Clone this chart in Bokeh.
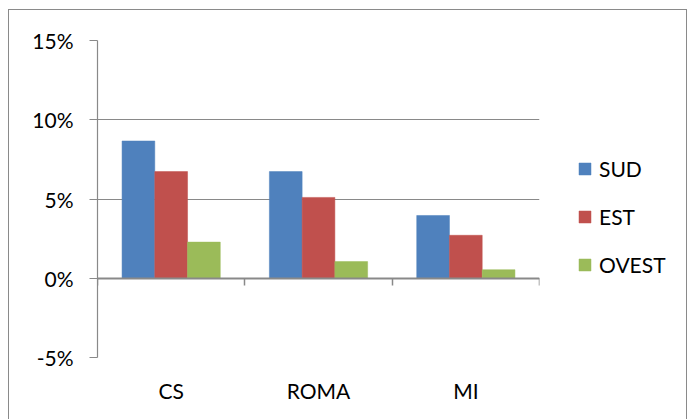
from bokeh.plotting import figure
from bokeh.models import (ColumnDataSource, Range1d, LinearAxis, FixedTicker,
                          NumeralTickFormatter, Legend, LegendItem)
from bokeh.transform import dodge
from bokeh.embed import file_html
from bokeh.resources import INLINE

categories = ["CS", "ROMA", "MI"]
series = ["SUD", "EST", "OVEST"]
sud = [0.0866, 0.0673, 0.0396]
est = [0.0673, 0.0510, 0.0271]
ovest = [0.0228, 0.0105, 0.0054]
y_ticks = [-0.05, 0.0, 0.05, 0.10, 0.15]
colors = ["#4F81BD", "#C0504D", "#9BBB59"]

FONT = "Lato"
FS = "21px"
GREY = "#898989"

n = len(categories)
centers = [i + 0.5 for i in range(n)]
src = ColumnDataSource(data=dict(xc=centers, cat=categories, SUD=sud, EST=est, OVEST=ovest))

p = figure(frame_width=442, frame_height=317, x_range=Range1d(0, n),
           y_range=Range1d(y_ticks[0], y_ticks[-1]),
           output_backend="svg", toolbar_location=None,
           min_border_left=88, min_border_top=30, min_border_right=147, min_border_bottom=62,
           styles={"border": "1px solid #8a8a8a", "margin-left": "8px", "margin-top": "9px",
                   "max-width": "679px", "box-sizing": "border-box", "overflow": "hidden"})
p.outline_line_color = None
p.background_fill_color = "white"
p.border_fill_color = "white"
p.xgrid.grid_line_color = None
p.ygrid.grid_line_color = GREY
p.ygrid.grid_line_width = 1.2
p.ygrid.ticker = FixedTicker(ticks=y_ticks)

bw = 1 / 4.5
renderers = []
for i, (s, c) in enumerate(zip(series, colors)):
    r = p.vbar(x=dodge("xc", (i - 1) * bw), top=s, bottom=0, width=bw,
               source=src, fill_color=c, line_color=c, line_width=0.5)
    renderers.append(r)

# y axis
ya = p.yaxis[0]
ya.ticker = FixedTicker(ticks=y_ticks)
ya.formatter = NumeralTickFormatter(format="0%")
ya.axis_line_color = GREY
ya.axis_line_width = 1.2
ya.major_tick_line_color = GREY
ya.major_tick_line_width = 1.2
ya.major_tick_out = 8
ya.major_tick_in = 0
ya.minor_tick_line_color = None
ya.major_label_standoff = 16
ya.major_label_text_font = FONT
ya.major_label_text_font_size = FS
ya.major_label_text_color = "black"

# category labels axis
xa = p.xaxis[0]
xa.ticker = FixedTicker(ticks=centers)
xa.major_label_overrides = {c: lab for c, lab in zip(centers, categories)}
xa.axis_line_color = None
xa.major_tick_line_color = None
xa.minor_tick_line_color = None
xa.major_label_standoff = 14
xa.major_label_text_font = FONT
xa.major_label_text_font_size = FS
xa.major_label_text_color = "black"

# zero-line category axis with boundary ticks
za = LinearAxis(ticker=FixedTicker(ticks=list(range(n + 1))), fixed_location=0)
za.axis_line_color = GREY
za.axis_line_width = 2
za.major_tick_line_color = GREY
za.major_tick_line_width = 1.5
za.major_tick_in = 7
za.major_tick_out = 0
za.minor_tick_line_color = None
za.major_label_text_font_size = "0px"
za.major_label_text_alpha = 0
p.add_layout(za, "above")

legend = Legend(items=[LegendItem(label=s, renderers=[r]) for s, r in zip(series, renderers)],
                location=(38, 80), orientation="vertical")
legend.border_line_color = None
legend.background_fill_alpha = 0
legend.padding = 0
legend.margin = 0
legend.spacing = 23
legend.glyph_width = 15
legend.glyph_height = 15
legend.label_height = 20
legend.label_standoff = 7
legend.label_text_font = FONT
legend.label_text_font_size = FS
legend.label_text_color = "black"
p.add_layout(legend, "right")

open("out.html", "w").write(file_html(p, INLINE))
